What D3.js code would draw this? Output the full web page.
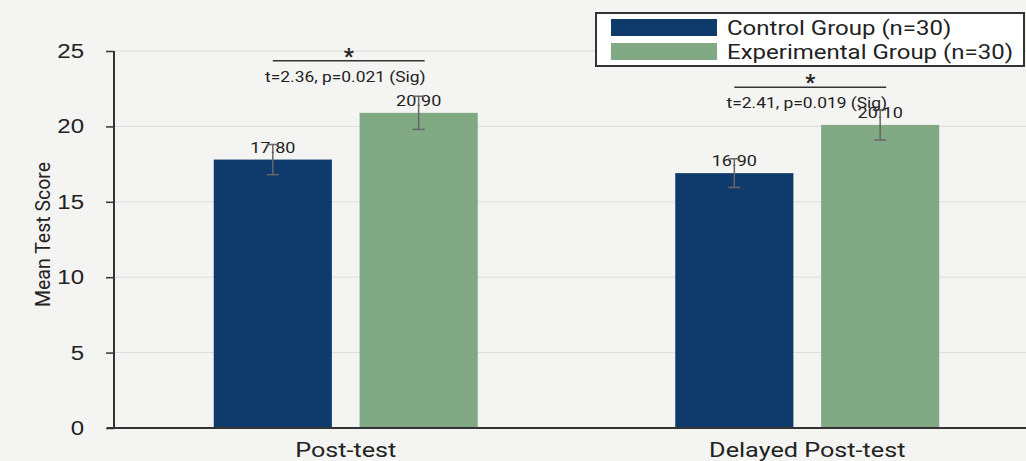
<!DOCTYPE html>
<html>
<head>
<meta charset="utf-8">
<script src="https://cdn.jsdelivr.net/npm/d3@7"></script>
<style>
    body { margin: 0; background: #f4f4f2; }
    svg { display: block; font-family: Roboto, "Liberation Sans", Arial, sans-serif; }
</style>
</head>
<body>
<div id="chart"></div>
<script>
// Data
const categories = ['Post-test', 'Delayed Post-test'];
const seriesNames = ['Control Group (n=30)', 'Experimental Group (n=30)'];
const controlMeans = [17.80, 16.90];
const experimentalMeans = [20.90, 20.10];
const controlErrors = [1.0, 0.95];
const experimentalErrors = [1.1, 1.0];
const statLabels = ['t=2.36, p=0.021 (Sig)', 't=2.41, p=0.019 (Sig)'];
const statLevels = [24.35, 22.6];
const yTicks = [0, 5, 10, 15, 20, 25];

const colors = ['#0e3a6c', '#80a984'];

// the source picture is stretched sideways, so texts get a wider box
const stretch = 1.2;

const width = 1026, height = 461;

const svg = d3.select('#chart')
    .append('svg')
    .attr('width', width)
    .attr('height', height);

svg.append('rect')
    .attr('width', width)
    .attr('height', height)
    .attr('fill', '#f4f4f2');

// Scales
const yScale = d3.scaleLinear()
    .domain([0, 25])
    .range([428, 51]);

const x0 = d3.scaleBand()
    .domain(categories)
    .range([115, 1038])
    .padding(0);

const x1 = d3.scaleBand()
    .domain(seriesNames)
    .range([x0.bandwidth() / 2 - 132, x0.bandwidth() / 2 + 132])
    .paddingInner(0.19);

// widen a text to its measured width times the stretch factor
function widen(sel) {
    sel.each(function() {
        const w = this.getComputedTextLength();
        d3.select(this)
            .attr('textLength', w * stretch)
            .attr('lengthAdjust', 'spacingAndGlyphs');
    });
}

// Grid lines
svg.append('g')
    .selectAll('line')
    .data(yTicks)
    .join('line')
    .attr('x1', 114)
    .attr('x2', width)
    .attr('y1', d => yScale(d))
    .attr('y2', d => yScale(d))
    .attr('stroke', '#dcdcdc')
    .attr('stroke-width', 1);

// Flatten data
const rows = [];
categories.forEach((c, i) => {
    rows.push({ cat: c, series: seriesNames[0], value: controlMeans[i], err: controlErrors[i], color: colors[0] });
    rows.push({ cat: c, series: seriesNames[1], value: experimentalMeans[i], err: experimentalErrors[i], color: colors[1] });
});

const barX = d => x0(d.cat) + x1(d.series);
const barMid = d => barX(d) + x1.bandwidth() / 2;

// Bars
svg.append('g')
    .selectAll('rect')
    .data(rows)
    .join('rect')
    .attr('x', barX)
    .attr('y', d => yScale(d.value))
    .attr('width', x1.bandwidth())
    .attr('height', d => yScale(0) - yScale(d.value))
    .attr('fill', d => d.color);

// Value labels
svg.append('g')
    .selectAll('text')
    .data(rows)
    .join('text')
    .attr('x', barMid)
    .attr('y', d => yScale(d.value) - 7)
    .attr('text-anchor', 'middle')
    .attr('font-size', 15)
    .attr('fill', '#222')
    .text(d => d.value.toFixed(2))
    .call(widen);

// Error bars
const errG = svg.append('g')
    .attr('stroke', '#666')
    .attr('stroke-width', 1.5);

errG.selectAll('.err-v')
    .data(rows)
    .join('line')
    .attr('class', 'err-v')
    .attr('x1', barMid)
    .attr('x2', barMid)
    .attr('y1', d => yScale(d.value + d.err))
    .attr('y2', d => yScale(d.value - d.err));

[1, -1].forEach(sign => {
    errG.selectAll('.cap' + sign)
        .data(rows)
        .join('line')
        .attr('x1', d => barMid(d) - 6)
        .attr('x2', d => barMid(d) + 6)
        .attr('y1', d => yScale(d.value + sign * d.err))
        .attr('y2', d => yScale(d.value + sign * d.err));
});

// Axes
const yAxis = svg.append('g')
    .attr('transform', 'translate(114,0)')
    .call(d3.axisLeft(yScale).tickValues(yTicks).tickSize(8).tickPadding(22));

yAxis.select('.domain').attr('stroke', '#333').attr('stroke-width', 2)
    .attr('d', `M0,${yScale(25)}V${yScale(0)}`);
yAxis.selectAll('.tick line').attr('stroke', '#333').attr('stroke-width', 1.5);
yAxis.selectAll('.tick text')
    .attr('font-size', 20)
    .attr('font-family', '"Liberation Sans", Arial, sans-serif')
    .attr('fill', '#222')
    .call(widen);

svg.append('line')
    .attr('x1', 107)
    .attr('x2', width)
    .attr('y1', yScale(0))
    .attr('y2', yScale(0))
    .attr('stroke', '#333')
    .attr('stroke-width', 2);

const xAxis = svg.append('g')
    .attr('transform', `translate(0,${yScale(0)})`)
    .call(d3.axisBottom(x0).tickSize(0).tickPadding(14));

xAxis.select('.domain').remove();
xAxis.selectAll('.tick text')
    .attr('font-size', 21)
    .attr('font-family', 'Roboto, sans-serif')
    .attr('fill', '#222')
    .call(widen);

// Y axis label
svg.append('text')
    .attr('transform', `translate(50,${(162 + 307) / 2}) rotate(-90)`)
    .attr('text-anchor', 'middle')
    .attr('font-size', 20)
    .attr('fill', '#222')
    .attr('textLength', 145)
    .attr('lengthAdjust', 'spacingAndGlyphs')
    .text('Mean Test Score');

// Significance brackets
const sig = svg.append('g');
categories.forEach((c, i) => {
    const left = x0(c) + x1(seriesNames[0]) + x1.bandwidth() / 2;
    const right = x0(c) + x1(seriesNames[1]) + x1.bandwidth() / 2 + 6;
    const y = yScale(statLevels[i]);
    sig.append('line')
        .attr('x1', left)
        .attr('x2', right)
        .attr('y1', y)
        .attr('y2', y)
        .attr('stroke', '#333')
        .attr('stroke-width', 1.5);
    sig.append('text')
        .attr('x', (left + right) / 2)
        .attr('y', y + 3)
        .attr('text-anchor', 'middle')
        .attr('font-size', 22)
        .attr('font-weight', 'bold')
        .attr('fill', '#222')
        .text('*');
    sig.append('text')
        .attr('x', right + 1)
        .attr('y', y + 21)
        .attr('text-anchor', 'end')
        .attr('font-size', 14.5)
        .attr('fill', '#222')
        .text(statLabels[i])
        .call(widen);
});

// Legend
const legend = svg.append('g');
legend.append('rect')
    .attr('x', 596)
    .attr('y', 13)
    .attr('width', 428)
    .attr('height', 53)
    .attr('fill', '#fff')
    .attr('stroke', '#333')
    .attr('stroke-width', 2);

legend.selectAll('.sw')
    .data(seriesNames)
    .join('rect')
    .attr('class', 'sw')
    .attr('x', 611)
    .attr('y', (d, i) => 19 + i * 24)
    .attr('width', 106)
    .attr('height', 17)
    .attr('fill', (d, i) => colors[i]);

legend.selectAll('.lt')
    .data(seriesNames)
    .join('text')
    .attr('class', 'lt')
    .attr('x', 727)
    .attr('y', (d, i) => 35 + i * 24)
    .attr('font-size', 20)
    .attr('fill', '#222')
    .text(d => d)
    .call(widen);
</script>
</body>
</html>
